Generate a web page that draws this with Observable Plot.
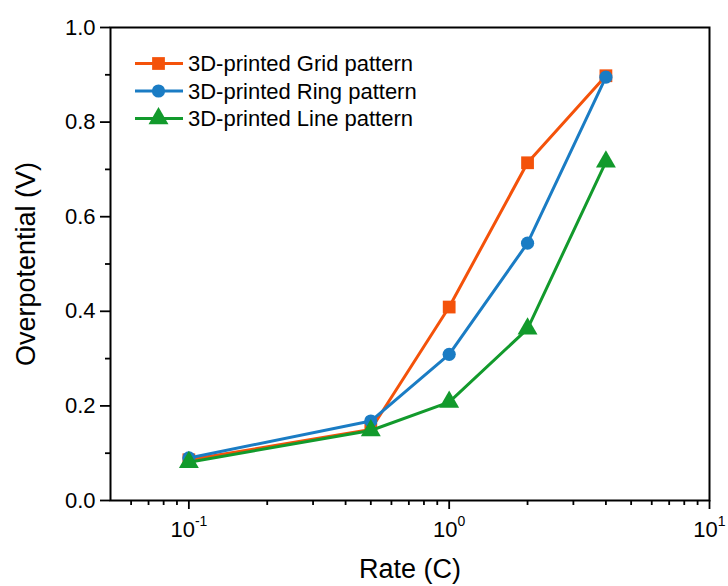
<!DOCTYPE html>
<html>
<head>
<meta charset="utf-8">
<script src="https://cdn.jsdelivr.net/npm/d3@7"></script>
<script src="https://cdn.jsdelivr.net/npm/@observablehq/plot@0.6"></script>
<style>
  html, body { margin: 0; padding: 0; background: #fff; }
  #chart { position: relative; width: 728px; height: 586px; }
</style>
</head>
<body>
<div id="chart"></div>
<script>
// ---- data ----
const rates = [0.1, 0.5, 1, 2, 4];
const seriesNames = ["3D-printed Grid pattern", "3D-printed Ring pattern", "3D-printed Line pattern"];
const gridValues = [0.086, 0.150, 0.409, 0.714, 0.898];
const ringValues = [0.090, 0.168, 0.309, 0.544, 0.895];
const lineValues = [0.081, 0.148, 0.208, 0.363, 0.716];
const seriesColors = ["#F4520A", "#1A7CC4", "#129A2C"];
const seriesSymbols = ["square", "circle", "triangle"];
const yMajorTicks = [0, 0.2, 0.4, 0.6, 0.8, 1.0];
const yMinorTicks = [0.1, 0.3, 0.5, 0.7, 0.9];
const xMajorTicks = [0.1, 1, 10];
const xMinorTicks = [0.06, 0.07, 0.08, 0.09, 0.2, 0.3, 0.4, 0.5, 0.6, 0.7, 0.8, 0.9, 2, 3, 4, 5, 6, 7, 8, 9];

const allValues = [gridValues, ringValues, lineValues];
const rows = [];
seriesNames.forEach((name, i) => {
  rates.forEach((r, j) => rows.push({series: name, rate: r, v: allValues[i][j]}));
});

const FONT = "Arial, 'Liberation Sans', sans-serif";
const symbolOf = d3.scaleOrdinal(seriesNames, seriesSymbols);
const colorOf = d3.scaleOrdinal(seriesNames, seriesColors);
const symbolR = {square: 7.2, circle: 6.6, triangle: 7.4};

const marks = [];
seriesNames.forEach(name => {
  const data = rows.filter(d => d.series === name);
  marks.push(Plot.line(data, {x: "rate", y: "v", stroke: colorOf(name), strokeWidth: 3}));
  marks.push(Plot.dot(data, {x: "rate", y: "v", fill: colorOf(name), stroke: "none",
    symbol: symbolOf(name), r: symbolR[symbolOf(name)]}));
});

const plot = Plot.plot({
  width: 728,
  height: 586,
  marginLeft: 110,
  marginRight: 19,
  marginTop: 27,
  marginBottom: 86,
  style: {fontFamily: FONT, fontSize: "22px", color: "#000", background: "#fff"},
  x: {type: "log", domain: [0.05, 10]},
  y: {domain: [0, 1]},
  marks: [
    Plot.axisY({ticks: yMinorTicks, tickSize: 5, tickFormat: () => "", label: null, strokeWidth: 1.8}),
    Plot.axisY({ticks: yMajorTicks, tickSize: 10, tickPadding: 5, tickFormat: d3.format(".1f"),
      label: "Overpotential (V)", labelAnchor: "center", labelOffset: 95, labelArrow: false, strokeWidth: 1.8}),
    Plot.axisX({ticks: xMinorTicks, tickSize: 5, tickFormat: () => "", label: null, strokeWidth: 1.8}),
    Plot.axisX({ticks: xMajorTicks, tickSize: 9, tickPadding: 12,
      tickFormat: d => String(Math.round(Math.log10(d))),
      label: "Rate (C)", labelAnchor: "center", labelOffset: 77, labelArrow: false, strokeWidth: 1.8}),
    ...marks,
    Plot.frame({stroke: "#000", strokeWidth: 2})
  ]
});

document.getElementById("chart").appendChild(plot);
const svg = d3.select(plot);

// superscript exponents on major x tick labels
svg.selectAll('g[aria-label="x-axis tick label"] text').each(function() {
  const t = d3.select(this);
  const e = t.text();
  if (!e) return;
  t.text("10");
  t.append("tspan").attr("dy", "-11px").attr("font-size", "14px").text(e);
});
// axis title sizes
svg.selectAll('g[aria-label="y-axis label"] text, g[aria-label="x-axis label"] text')
  .attr("font-size", "27px").attr("fill", "#000");

// legend (inside plot, top-left)
const legend = svg.append("g").attr("font-family", FONT).attr("font-size", "22px")
  .attr("text-anchor", "start");
seriesNames.forEach((name, i) => {
  const g = legend.append("g").attr("transform", `translate(135, ${63.5 + i * 27.5})`);
  g.append("line").attr("x1", 0).attr("x2", 48).attr("y1", 0).attr("y2", 0)
    .attr("stroke", colorOf(name)).attr("stroke-width", 3);
  const sym = {square: d3.symbolSquare, circle: d3.symbolCircle, triangle: d3.symbolTriangle}[symbolOf(name)];
  const r = symbolR[symbolOf(name)];
  g.append("path").attr("transform", "translate(23.5,0)")
    .attr("d", d3.symbol(sym, Math.PI * r * r)())
    .attr("fill", colorOf(name));
  g.append("text").attr("x", 53).attr("y", 0).attr("dy", "0.35em").attr("fill", "#000")
    .attr("text-anchor", "start").text(name);
});
</script>
</body>
</html>
